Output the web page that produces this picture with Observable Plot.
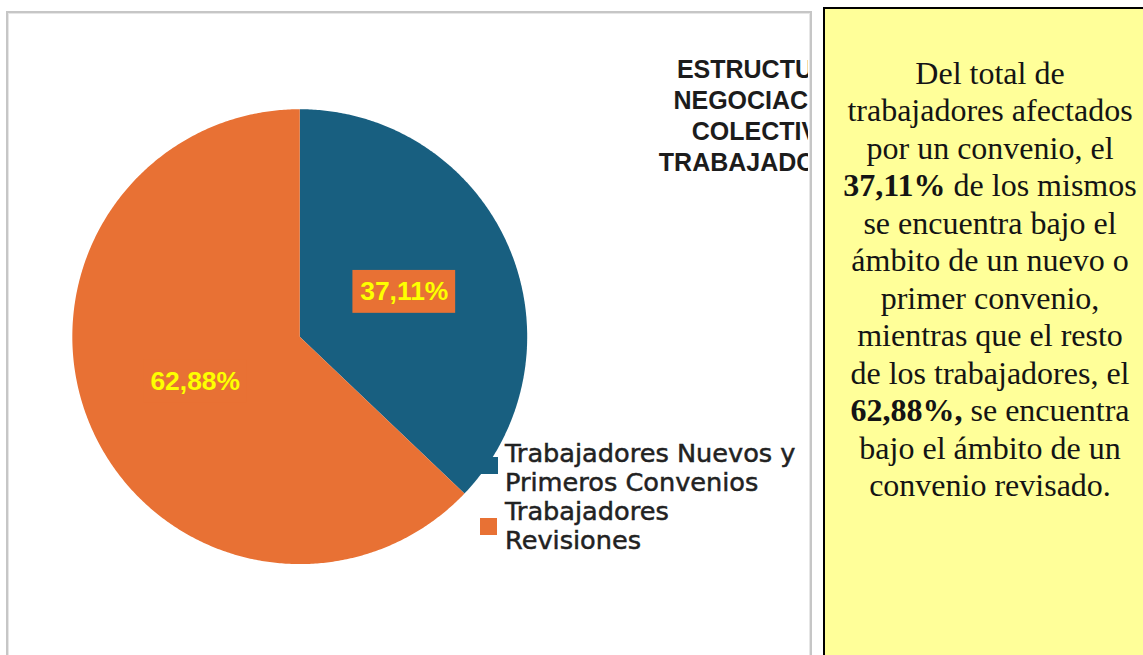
<!DOCTYPE html>
<html><head><meta charset="utf-8">
<script src="https://cdn.jsdelivr.net/npm/d3@7"></script>
<script src="https://cdn.jsdelivr.net/npm/@observablehq/plot@0.6"></script>
<style>
html,body{margin:0;padding:0;background:#fff;width:1143px;height:655px;overflow:hidden;position:relative}
#chart{position:absolute;left:0;top:0;width:808px;height:655px;overflow:hidden}
#chart svg{background:transparent;overflow:hidden}
#frame{position:absolute;left:6px;top:11px;width:806px;height:700px;box-sizing:border-box;border:2px solid #c6c6c6;box-shadow:inset 1px 1px 0 #e6e6e6,inset -1px 0 0 #e6e6e6;pointer-events:none}
#title{position:absolute;left:603px;top:54px;width:320px;text-align:center;font:bold 25px "Liberation Sans",Arial,sans-serif;line-height:31px;color:#1c1c1c;white-space:nowrap}
#titleclip{position:absolute;left:0;top:0;width:808px;height:655px;overflow:hidden}
#legend{position:absolute;left:0;top:0}
.sw{position:absolute;width:17px;height:17px}
.lt{position:absolute;left:505px;font:25.6px "DejaVu Sans",Verdana,sans-serif;line-height:29px;color:#222;white-space:nowrap;-webkit-text-stroke:0.5px #222}
#note{position:absolute;left:823px;top:7px;width:332px;height:700px;box-sizing:border-box;background:#ffff99;border-left:2px solid #000;border-top:2px solid #000;text-align:center;font:32px "Liberation Serif","Times New Roman",serif;line-height:37.5px;color:#141414;padding-top:45.5px;white-space:nowrap}
</style></head>
<body>
<div id="chart"></div>
<div id="titleclip"><div id="title"></div></div>
<div id="legend"></div>
<div id="frame"></div>
<div id="note"></div>
<script>
// ---- data ----
const categories = ["Trabajadores Nuevos y Primeros Convenios", "Trabajadores Revisiones"];
const legendLines = [["Trabajadores Nuevos y", "Primeros Convenios"], ["Trabajadores", "Revisiones"]];
const values = [37.11, 62.88];
const colors = ["#185f80", "#e87134"];
const titleLines = ["ESTRUCTURA", "NEGOCIACIÓN", "COLECTIVA", "TRABAJADORES"];
const noteLines = [
  "Del total de",
  "trabajadores afectados",
  "por un convenio, el",
  "<b>37,11%</b> de los mismos",
  "se encuentra bajo el",
  "ámbito de un nuevo o",
  "primer convenio,",
  "mientras que el resto",
  "de los trabajadores, el",
  "<b>62,88%,</b> se encuentra",
  "bajo el ámbito de un",
  "convenio revisado."
];

// ---- build ----
const fmt = v => d3.format(".2f")(v).replace(".", ",") + "%";
const table = categories.map((c, i) => ({key: c, value: values[i]}));
const arcs = d3.pie().sort(null).value(d => d.value).startAngle(0).endAngle(2 * Math.PI)(table);

const pts = [];
for (const a of arcs) {
  const k = a.data.key;
  pts.push({key: k, x: 0, y: 0});
  const n = Math.max(2, Math.ceil((a.endAngle - a.startAngle) / (Math.PI / 360)));
  for (let j = 0; j <= n; j++) {
    const t = a.startAngle + (a.endAngle - a.startAngle) * j / n;
    pts.push({key: k, x: Math.sin(t), y: Math.cos(t)});
  }
  pts.push({key: k, x: 0, y: 0});
}
const R = 228; // pixel radius
const bw = 51.5 / R, bh = 21.5 / R;
const labels = arcs.map(a => {
  const m = (a.startAngle + a.endAngle) / 2;
  return {key: a.data.key, x: 0.5 * Math.sin(m), y: 0.5 * Math.cos(m), text: fmt(a.data.value)};
});

const W = 810, H = 655, cx = 300, cy = 337;
const chart = Plot.plot({
  width: W, height: H,
  marginLeft: cx - R, marginRight: W - (cx + R),
  marginTop: cy - R, marginBottom: H - (cy + R),
  x: {domain: [-1, 1], axis: null},
  y: {domain: [-1, 1], axis: null},
  color: {domain: categories, range: colors},
  style: {background: "transparent", overflow: "hidden"},
  marks: [
    Plot.line(pts, {x: "x", y: "y", z: "key", fill: "key", stroke: "none", curve: "linear"}),
    Plot.rect(labels, {x1: d => d.x - bw, x2: d => d.x + bw, y1: d => d.y - bh, y2: d => d.y + bh, fill: colors[1]}),
    Plot.text(labels, {x: "x", y: "y", text: "text", fill: "#ffff00", fontSize: 26.5, fontWeight: "bold",
      fontFamily: "Liberation Sans, Arial, sans-serif", textAnchor: "middle", lineAnchor: "middle",
      stroke: "#b89a10", strokeWidth: 0.6, strokeOpacity: 0.5})
  ]
});
document.getElementById("chart").appendChild(chart);

document.getElementById("title").innerHTML = titleLines.join("<br>");
document.getElementById("note").innerHTML = noteLines.join("<br>");

const lg = document.getElementById("legend");
const swPos = [[481, 457], [480, 518]];
categories.forEach((c, i) => {
  const s = document.createElement("div");
  s.className = "sw";
  s.style.left = swPos[i][0] + "px";
  s.style.top = swPos[i][1] + "px";
  s.style.background = colors[i];
  lg.appendChild(s);
});
const lt = document.createElement("div");
lt.className = "lt";
lt.style.top = "439px";
lt.innerHTML = legendLines.map(l => l.join("<br>")).join("<br>");
lg.appendChild(lt);
</script>
</body></html>
